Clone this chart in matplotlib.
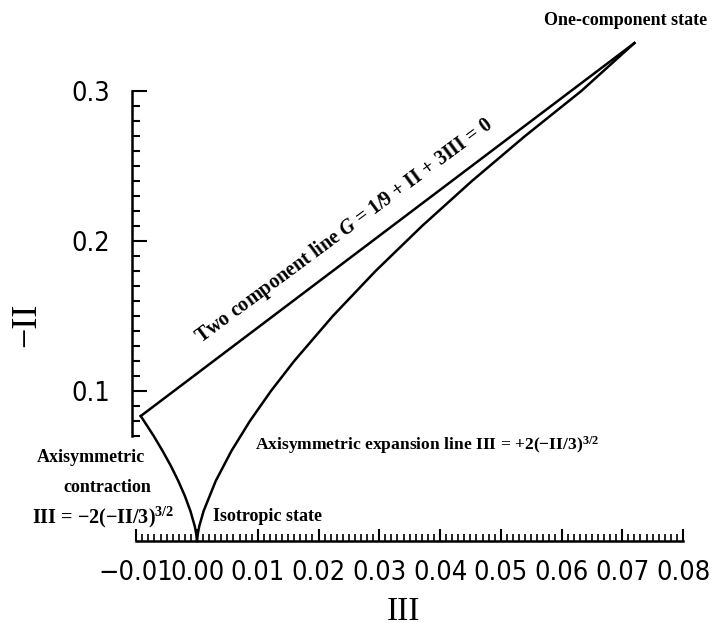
import numpy as np
import matplotlib
matplotlib.use("Agg")
import matplotlib.pyplot as plt

# Lumley triangle, values
# left branch: axisymmetric contraction, III < 0
contr_negII = [0.0833, 0.07, 0.06, 0.05, 0.04, 0.03, 0.02, 0.01, 0.005, 0.0]
contr_III = [-0.00926, -0.00713, -0.00566, -0.00430, -0.00308, -0.00200,
             -0.00109, -0.00038, -0.00014, 0.0]
# right branch: axisymmetric expansion, III > 0
exp_negII = [0.0, 0.005, 0.01, 0.02, 0.04, 0.06, 0.08, 0.10, 0.12, 0.15,
             0.18, 0.21, 0.24, 0.27, 0.30, 0.332]
exp_III = [0.0, 0.00014, 0.00038, 0.00109, 0.00308, 0.00566, 0.00871, 0.01217,
           0.0160, 0.02236, 0.02939, 0.03704, 0.04525, 0.0540, 0.06325, 0.0720]
# two component line, straight
two_negII = [0.0833, 0.332]
two_III = [-0.00926, 0.0720]

xticks = [-0.01, 0.00, 0.01, 0.02, 0.03, 0.04, 0.05, 0.06, 0.07, 0.08]
xticklabels = ["\u22120.01", "0.00", "0.01", "0.02", "0.03", "0.04",
               "0.05", "0.06", "0.07", "0.08"]
yticks = [0.1, 0.2, 0.3]
yticklabels = ["0.1", "0.2", "0.3"]

plt.rcParams["mathtext.fontset"] = "custom"
plt.rcParams["mathtext.rm"] = "Liberation Serif:bold"
plt.rcParams["mathtext.it"] = "Liberation Serif:italic:bold"
plt.rcParams["mathtext.bf"] = "Liberation Serif:bold"

num_font = ["Liberation Sans Narrow", "DejaVu Sans"]
ann_font = ["Liberation Serif", "DejaVu Serif"]

fig = plt.figure(figsize=(7.14, 6.26), dpi=100)
ax = fig.add_axes([0, 0, 1, 1])
ax.set_xlim(-0.03243, 0.0851)
ax.set_ylim(-0.0567, 0.3607)

lw = 1.8
ax.plot(contr_III, contr_negII, color="black", lw=lw, solid_joinstyle="miter")
ax.plot(exp_III, exp_negII, color="black", lw=lw)
ax.plot(two_III, two_negII, color="black", lw=lw)

# axes drawn as bare spines with inward ticks
for s in ["top", "right"]:
    ax.spines[s].set_visible(False)
ax.spines["left"].set_position(("data", -0.0107))
ax.spines["left"].set_bounds(0.07, 0.3)
ax.spines["bottom"].set_position(("data", 0.0))
ax.spines["bottom"].set_bounds(-0.01, 0.08)
ax.spines["left"].set_linewidth(1.8)
ax.spines["bottom"].set_linewidth(1.8)

ax.set_xticks(xticks)
ax.set_xticklabels(xticklabels, family=num_font, fontsize=19.5,
                   fontstretch="condensed")
ax.set_xticks(np.arange(-0.01, 0.0805, 0.001), minor=True)
ax.set_yticks(yticks)
ax.set_yticklabels(yticklabels, family=num_font, fontsize=19.5,
                   fontstretch="condensed")
ax.set_yticks(np.arange(0.07, 0.3005, 0.01), minor=True)

ax.tick_params(axis="x", which="major", direction="in", length=9, width=1.5, pad=14)
ax.tick_params(axis="x", which="minor", direction="in", length=5, width=1.2)
ax.tick_params(axis="y", which="major", direction="in", length=11, width=1.5, pad=16)
ax.tick_params(axis="y", which="minor", direction="in", length=6, width=1.5)

ax.text(0.0339, -0.0475, "III", family=ann_font, fontsize=24,
        ha="center", va="center")
ax.text(-0.0281, 0.144, "\u2212II", family=ann_font, fontsize=26,
        rotation=90, ha="center", va="center")

# annotations
kw = dict(family=ann_font, fontweight="bold", fontsize=13, color="black")
ax.text(-0.0175, 0.0555, "Axisymmetric", ha="center", va="center", **kw)
ax.text(-0.0148, 0.0355, "contraction", ha="center", va="center", **kw)
ax.text(-0.0155, 0.0160, "III = \u22122(\u2212II/3)$^{3/2}$",
        ha="center", va="center", **dict(kw, fontsize=14.5))
ax.text(0.0027, 0.0163, "Isotropic state", ha="left", va="center", **kw)
ax.text(0.0095, 0.0640, "Axisymmetric expansion line III = +2(\u2212II/3)$^{3/2}$",
        ha="left", va="center", **dict(kw, fontsize=12.6))
ax.text(0.0705, 0.347, "One-component state", ha="center", va="center", **kw)
ax.text(0.0242, 0.2065, "Two component line $G$ = 1/9 + II + 3III = 0",
        ha="center", va="center", rotation=36.5, rotation_mode="anchor",
        **dict(kw, fontsize=14.5))

fig.savefig("out.png", dpi=100)
